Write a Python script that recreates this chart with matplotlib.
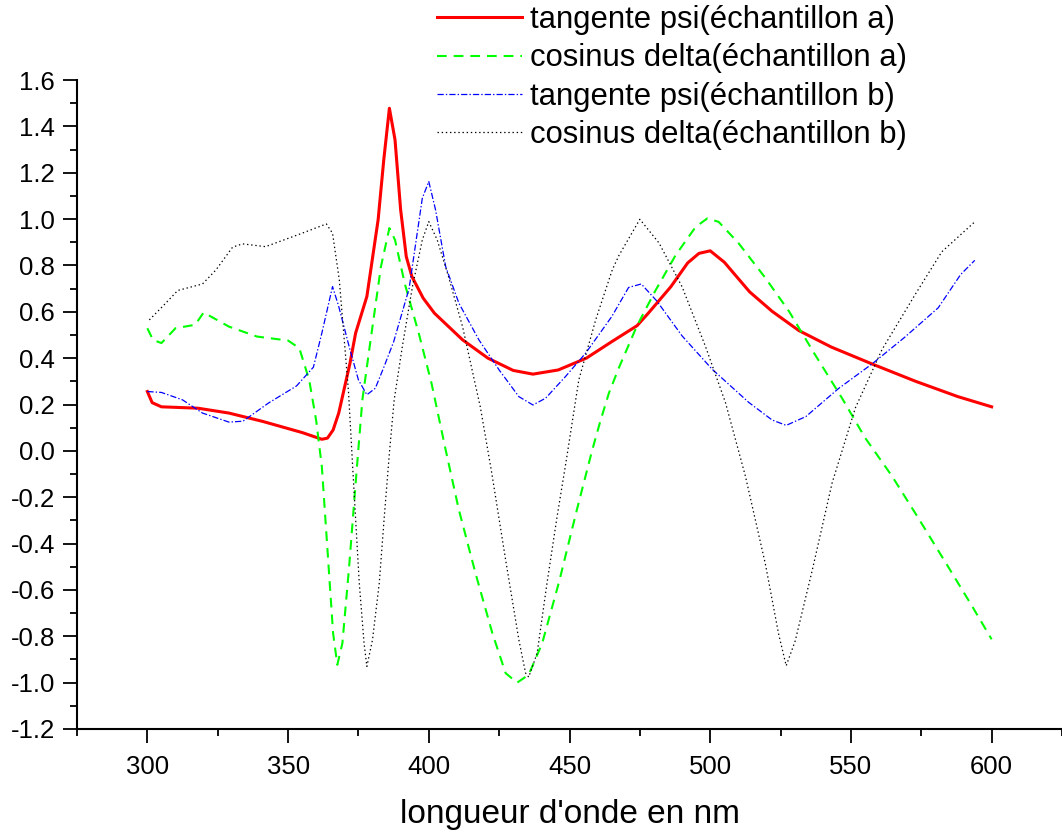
import matplotlib
matplotlib.use("Agg")
import matplotlib.pyplot as plt
from matplotlib.ticker import MultipleLocator, FormatStrFormatter

plt.rcParams['font.family'] = ['Liberation Sans', 'DejaVu Sans']
plt.rcParams['axes.unicode_minus'] = False
plt.rcParams['lines.scale_dashes'] = False

# tangente psi (échantillon a)
red_x = [300, 301.7, 305, 318, 329, 341, 355, 362, 364, 366, 368, 372, 374, 378, 382, 384, 386,
         388, 390, 392, 394, 398, 402, 412, 421, 430, 437, 446, 456, 465, 474, 478, 486, 492,
         496, 500, 505, 514, 522, 531.5, 543, 557.5, 573, 588, 600]
red_y = [0.256, 0.208, 0.19, 0.184, 0.163, 0.127, 0.079, 0.050, 0.055, 0.09, 0.163, 0.378, 0.508,
         0.666, 0.997, 1.255, 1.478, 1.342, 1.04, 0.838, 0.752, 0.659, 0.594, 0.479, 0.40, 0.347,
         0.331, 0.349, 0.40, 0.471, 0.54, 0.594, 0.708, 0.811, 0.852, 0.863, 0.814, 0.686, 0.602,
         0.519, 0.448, 0.375, 0.30, 0.234, 0.19]

# cosinus delta (échantillon a)
green_x = [300, 302, 305, 310, 317, 320, 329, 339, 350, 354, 357.5, 360, 362, 364, 366, 367.5,
           369.3, 371.7, 374, 376.4, 379, 383, 386, 388, 391.5, 396.6, 401, 406, 410.7, 416.6,
           422.6, 427.3, 431.4, 435.5, 440.3, 446.3, 452.5, 458, 461, 464, 467.6, 474, 480.6,
           487.7, 494.8, 499, 503, 510, 519.6, 528, 537, 547, 555, 564.6, 574, 584.7, 593, 600]
green_y = [0.529, 0.479, 0.465, 0.529, 0.544, 0.597, 0.536, 0.493, 0.476, 0.443, 0.306, 0.13,
           -0.068, -0.427, -0.787, -0.923, -0.83, -0.499, -0.14, 0.22, 0.45, 0.795, 0.961, 0.91,
           0.72, 0.50, 0.29, 0.004, -0.255, -0.528, -0.787, -0.959, -1.0, -0.966, -0.83, -0.565,
           -0.26, 0.0, 0.13, 0.249, 0.36, 0.54, 0.693, 0.844, 0.966, 1.003, 0.988, 0.897,
           0.746, 0.602, 0.42, 0.224, 0.057, -0.109, -0.291, -0.503, -0.669, -0.813]

# tangente psi (échantillon b)
blue_x = [300, 305, 312.5, 319.6, 329, 334, 343, 353, 359, 362, 365.8, 368, 371.7, 375, 378, 381,
          384, 387.5, 393, 397.7, 400, 402.4, 406, 410.7, 417.8, 425, 432, 437, 441.5, 448.6,
          455.7, 461, 465, 471, 475.5, 481, 490, 500.7, 513.7, 522, 527, 534, 545.6, 557.5, 569,
          581, 589, 594]
blue_y = [0.256, 0.252, 0.22, 0.163, 0.124, 0.128, 0.206, 0.28, 0.361, 0.508, 0.709, 0.623, 0.45,
          0.306, 0.242, 0.27, 0.36, 0.47, 0.70, 1.09, 1.162, 1.04, 0.795, 0.637, 0.479, 0.349,
          0.234, 0.198, 0.227, 0.321, 0.421, 0.511, 0.579, 0.705, 0.72, 0.647, 0.496, 0.352,
          0.209, 0.133, 0.110, 0.148, 0.269, 0.375, 0.489, 0.617, 0.761, 0.822]

# cosinus delta (échantillon b)
black_x = [300.7, 305.4, 310.8, 319.6, 324.4, 330.3, 333.8, 342, 355, 363.6, 365.8, 368.2, 370.5,
           371.5, 373, 375.3, 377, 378, 380, 382.4, 384.2, 386, 387.7, 390.6, 394.2, 397.7, 400,
           403, 407, 412, 416.7, 418.3, 422.3, 427.3, 432, 434.4, 435.5, 438.5, 442, 445.6, 449,
           453.3, 459.3, 465.2, 467.6, 475, 481.8, 490, 498.3, 505.4, 512.5, 519.6, 524.3, 527,
           530.2, 536.2, 543.3, 551.6, 561, 573, 582.3, 594]
black_y = [0.565, 0.623, 0.692, 0.72, 0.781, 0.879, 0.893, 0.881, 0.939, 0.979, 0.939, 0.738,
           0.40, 0.25, -0.08, -0.571, -0.83, -0.93, -0.815, -0.571, -0.283, -0.01, 0.22, 0.45,
           0.709, 0.91, 0.989, 0.91, 0.752, 0.536, 0.277, 0.19, -0.09, -0.47, -0.815, -0.959,
           -0.976, -0.873, -0.571, -0.283, -0.03, 0.306, 0.565, 0.781, 0.844, 0.999, 0.897,
           0.708, 0.451, 0.209, -0.109, -0.488, -0.79, -0.927, -0.82, -0.518, -0.139, 0.186,
           0.436, 0.678, 0.859, 0.988]

labels = ["tangente psi(échantillon a)", "cosinus delta(échantillon a)",
          "tangente psi(échantillon b)", "cosinus delta(échantillon b)"]

fig = plt.figure(figsize=(10.62, 8.36), dpi=100)
ax = fig.add_axes([77 / 1062, 107 / 836, 1 - 77 / 1062, 649 / 836])

l1, = ax.plot(red_x, red_y, color=(1, 0, 0), lw=2.2, solid_joinstyle='round')
l2, = ax.plot(green_x, green_y, color=(0, 1, 0), lw=1.5, dashes=(7, 5))
l3, = ax.plot(blue_x, blue_y, color=(0, 0, 1), lw=0.9, dashes=(4.5, 1.5, 1, 1.5))
l4, = ax.plot(black_x, black_y, color='black', lw=0.9, dashes=(1, 2))

ax.set_xlim(275, 625)
ax.set_ylim(-1.2, 1.6)
ax.xaxis.set_major_locator(MultipleLocator(50))
ax.xaxis.set_minor_locator(MultipleLocator(25))
ax.yaxis.set_major_locator(MultipleLocator(0.2))
ax.yaxis.set_minor_locator(MultipleLocator(0.1))
ax.yaxis.set_major_formatter(FormatStrFormatter('%.1f'))
ax.set_xticks([300, 350, 400, 450, 500, 550, 600])

for s in ['top', 'right']:
    ax.spines[s].set_visible(False)
for s in ['left', 'bottom']:
    ax.spines[s].set_linewidth(1.5)

ax.tick_params(which='major', direction='out', length=10, width=1.3, labelsize=18.5)
ax.tick_params(which='minor', direction='out', length=5, width=1.3)
ax.tick_params(axis='y', which='major', pad=6)
ax.tick_params(axis='x', which='major', pad=9)

ax.set_xlabel("longueur d'onde en nm", fontsize=24, va='center')
ax.xaxis.set_label_coords(0.5, -0.1325)

fig.legend([l1, l2, l3, l4], labels, loc='upper left',
           bbox_to_anchor=(437 / 1062, 1 - 5 / 836), frameon=False, fontsize=22.3,
           handlelength=2.74, handletextpad=0.26, labelspacing=0.27,
           borderpad=0, borderaxespad=0)

fig.savefig("out.png", dpi=100)
